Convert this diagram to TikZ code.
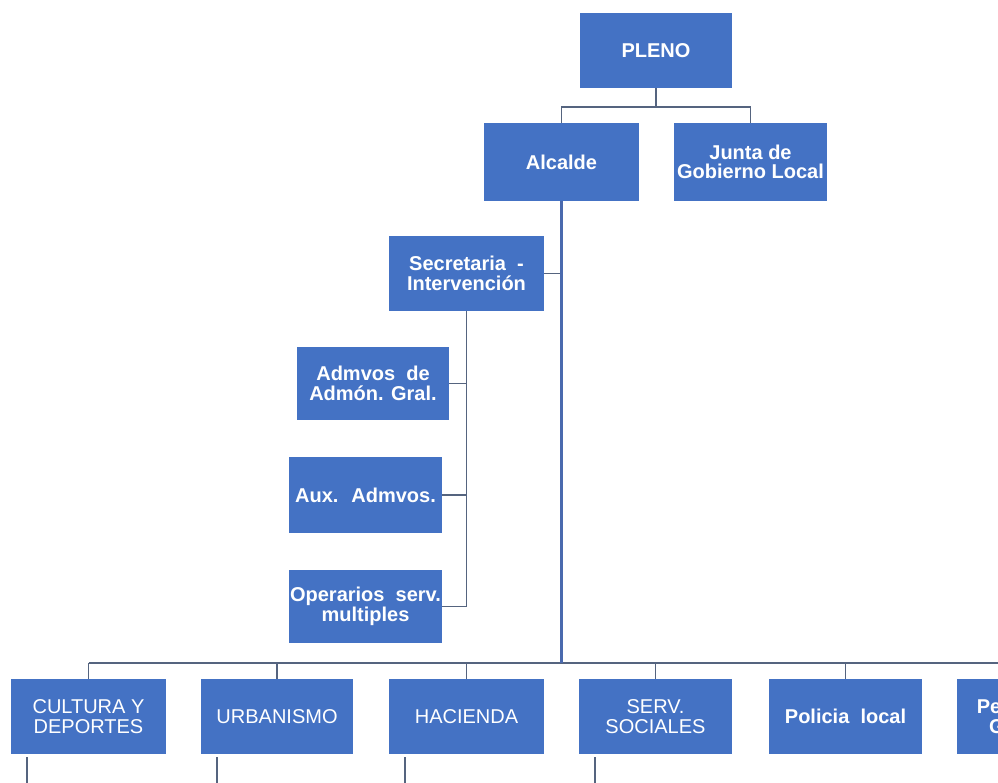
\documentclass[tikz,border=0pt]{standalone}
\usepackage{fontspec}
\setmainfont{Liberation Sans}
\definecolor{boxblue}{HTML}{4472C4}
\definecolor{linegray}{HTML}{55647F}
\definecolor{trunkblue}{HTML}{4A6AAE}
\begin{document}
\begin{tikzpicture}[x=1pt,y=-1pt,
  box/.style={fill=boxblue, text=white, font=\fontsize{20}{19.5}\selectfont\bfseries, align=center, inner sep=0pt, minimum width=153pt, minimum height=75pt},
  boxr/.style={box, font=\fontsize{20}{19.5}\selectfont},
  conn/.style={draw=linegray, line width=1.8pt},
  trunk/.style={draw=trunkblue, line width=3pt}]
\useasboundingbox (0,0) rectangle (998,782);
\clip (0,0) rectangle (998,782);
% top
\node[box, minimum width=152pt] (pleno) at (656,50.5) {PLENO};
\node[box, minimum width=155pt, minimum height=78pt] (alcalde) at (561.5,162) {Alcalde};
\node[box, minimum height=78pt] (junta) at (750.5,162) {Junta de\\Gobierno Local};
% secretaria branch
\node[box, minimum width=155pt] (secretaria) at (466.5,273.5) {Secretaria \ -\\Intervención};
\node[box, minimum width=152pt, minimum height=73pt] (admvos) at (373,383.5) {Admvos \ de\\Admón. Gral.};
\node[box, minimum height=76pt] (aux) at (365.5,495) {Aux. \ Admvos.};
\node[box, minimum height=73pt] (operarios) at (365.5,606.5) {Operarios \ serv.\\multiples};
% bottom row
\node[boxr, minimum width=155pt] (cultura) at (88.5,716.5) {CULTURA Y\\DEPORTES};
\node[boxr, minimum width=152pt] (urbanismo) at (277,716.5) {URBANISMO};
\node[boxr, minimum width=155pt] (hacienda) at (466.5,716.5) {HACIENDA};
\node[boxr] (serv) at (655.5,716.5) {SERV.\\SOCIALES};
\node[box] (policia) at (845.5,716.5) {Policia \ local};
\node[box] (personal) at (1033.5,716.5) {Personal de\\Gobierno};
% connectors
\coordinate (busy) at (0,663);
\coordinate (bottom) at (0,795);
\coordinate (busR) at (1010,663);
\draw[conn] (pleno.south) -- ++(0,19) coordinate (pj);
\draw[conn] (pj) -| (alcalde.north);
\draw[conn] (pj) -| (junta.north);
\draw[conn] (cultura.north |- busy) -- (busR);
\foreach \n in {cultura,urbanismo,hacienda,serv,policia,personal}
  \draw[conn] (\n.north |- busy) -- (\n.north);
\draw[conn] (secretaria.east) -- (secretaria.east -| alcalde.south);
\draw[conn] (secretaria.south) -- (secretaria.south |- operarios.east);
\foreach \n in {admvos,aux,operarios}
  \draw[conn] (\n.east) -- (\n.east -| secretaria.south);
\draw[trunk] (alcalde.south) -- (alcalde.south |- busy);
\foreach \n in {cultura,urbanismo,hacienda,serv} {
  \coordinate (\n-d) at ([xshift=16pt,yshift=-3pt]\n.south west);
  \draw[conn] (\n-d) -- (\n-d |- bottom);
}
\end{tikzpicture}
\end{document}
